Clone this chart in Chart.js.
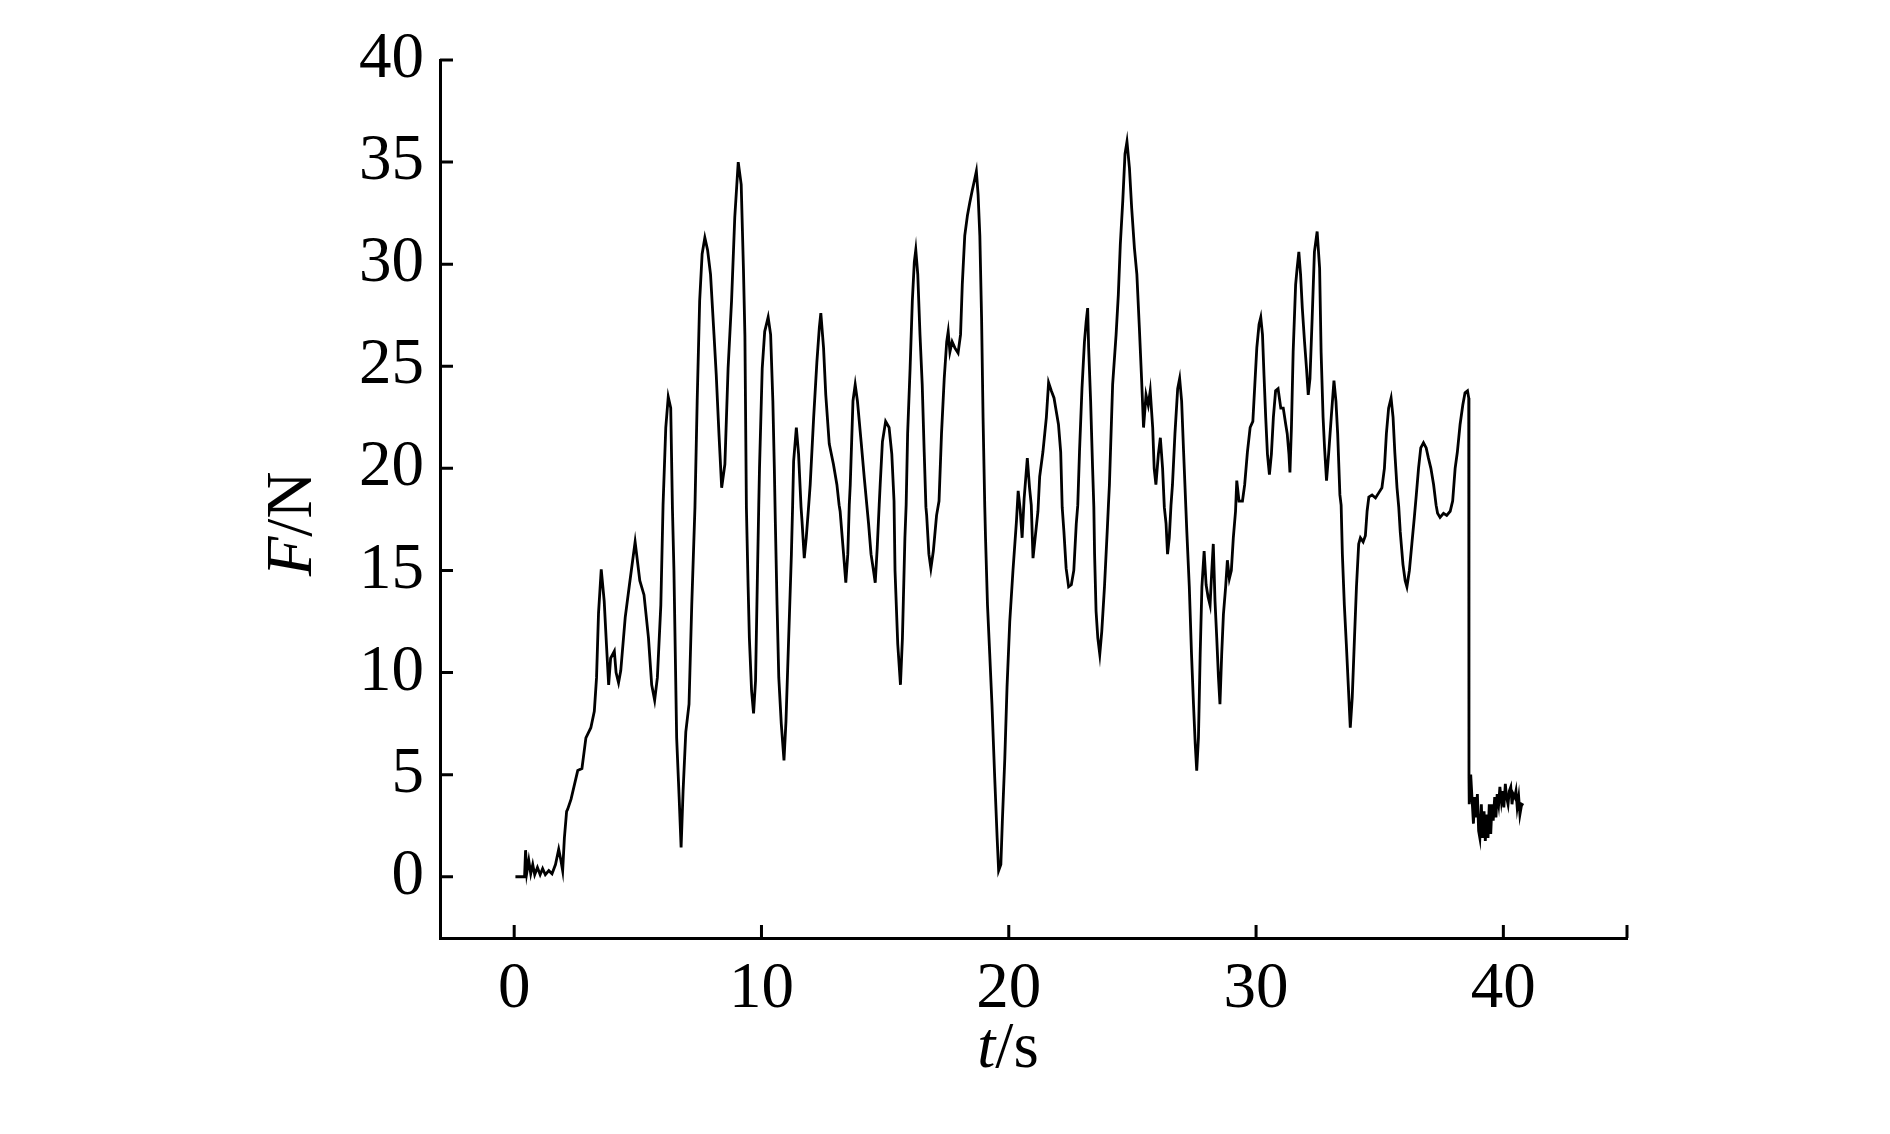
<!DOCTYPE html>
<html>
<head>
<meta charset="utf-8">
<script src="https://cdn.jsdelivr.net/npm/chart.js@4.4.1/dist/chart.umd.min.js"></script>
<style>
  html, body { margin: 0; padding: 0; background: #fff; }
  #wrap { width: 1890px; height: 1134px; }
</style>
</head>
<body>
<div id="wrap"><canvas id="force-chart" width="1890" height="1134"></canvas></div>
<script>
// t/s
const timeS = [
  0.05, 0.42, 0.46, 0.51, 0.59, 0.67, 0.75, 0.83, 0.94, 1.05, 1.15, 1.26, 1.40, 1.53, 1.67, 1.80, 1.89, 1.96,
  2.03, 2.12, 2.16, 2.30, 2.57, 2.74, 2.90, 3.10, 3.24, 3.33, 3.41, 3.52, 3.64, 3.73, 3.82, 3.90, 4.05, 4.12,
  4.22, 4.31, 4.49, 4.65, 4.89, 5.08, 5.25, 5.43, 5.56, 5.68, 5.79, 5.93, 6.02, 6.13, 6.23, 6.33, 6.40, 6.46,
  6.57, 6.67, 6.75, 6.83, 6.94, 7.07, 7.18, 7.31, 7.40, 7.50, 7.60, 7.71, 7.82, 7.94, 8.08, 8.17, 8.28, 8.39,
  8.52, 8.65, 8.79, 8.92, 9.06, 9.18, 9.27, 9.33, 9.39, 9.46, 9.51, 9.60, 9.68, 9.76, 9.84, 9.89, 9.92, 10.03,
  10.13, 10.27, 10.37, 10.46, 10.52, 10.56, 10.63, 10.70, 10.80, 10.91, 10.99, 11.10, 11.21, 11.26, 11.30,
  11.41, 11.50, 11.60, 11.64, 11.73, 11.81, 11.91, 11.97, 12.11, 12.24, 12.34, 12.40, 12.51, 12.60, 12.74,
  12.91, 13.05, 13.14, 13.18, 13.32, 13.41, 13.49, 13.55, 13.59, 13.70, 13.79, 13.88, 14.03, 14.16, 14.26,
  14.33, 14.43, 14.53, 14.60, 14.68, 14.76, 14.80, 14.89, 15.02, 15.16, 15.27, 15.36, 15.40, 15.51, 15.62,
  15.70, 15.80, 15.85, 15.91, 16.01, 16.10, 16.18, 16.24, 16.32, 16.41, 16.50, 16.58, 16.65, 16.68, 16.77,
  16.85, 16.95, 17.08, 17.18, 17.28, 17.39, 17.49, 17.55, 17.62, 17.71, 17.82, 17.95, 18.05, 18.12, 18.22,
  18.33, 18.42, 18.52, 18.63, 18.69, 18.76, 18.83, 18.90, 18.96, 19.03, 19.06, 19.14, 19.23, 19.32, 19.43,
  19.53, 19.59, 19.68, 19.74, 19.84, 19.93, 20.04, 20.17, 20.31, 20.38, 20.46, 20.54, 20.62, 20.75, 20.84,
  20.91, 20.98, 21.05, 21.18, 21.25, 21.38, 21.52, 21.61, 21.72, 21.83, 21.92, 22.01, 22.10, 22.16, 22.23,
  22.32, 22.42, 22.53, 22.63, 22.73, 22.79, 22.86, 22.96, 23.06, 23.13, 23.19, 23.23, 23.31, 23.39, 23.44,
  23.47, 23.53, 23.60, 23.68, 23.76, 23.87, 23.98, 24.03, 24.07, 24.20, 24.34, 24.43, 24.51, 24.61, 24.70,
  24.78, 24.88, 24.97, 25.08, 25.18, 25.28, 25.37, 25.45, 25.55, 25.64, 25.72, 25.82, 25.88, 25.95, 26.05,
  26.13, 26.22, 26.29, 26.36, 26.42, 26.49, 26.56, 26.62, 26.72, 26.83, 26.91, 26.99, 27.07, 27.16, 27.20,
  27.30, 27.39, 27.47, 27.54, 27.60, 27.67, 27.74, 27.81, 27.90, 27.98, 28.06, 28.14, 28.21, 28.27, 28.34,
  28.41, 28.48, 28.54, 28.61, 28.68, 28.77, 28.84, 28.92, 29.00, 29.08, 29.17, 29.22, 29.31, 29.45, 29.54,
  29.65, 29.76, 29.87, 29.95, 30.03, 30.12, 30.19, 30.26, 30.32, 30.39, 30.46, 30.54, 30.62, 30.70, 30.79,
  30.89, 31.00, 31.10, 31.20, 31.26, 31.33, 31.37, 31.43, 31.50, 31.60, 31.66, 31.73, 31.80, 31.87, 31.96,
  32.04, 32.11, 32.18, 32.27, 32.36, 32.47, 32.57, 32.63, 32.71, 32.77, 32.85, 32.94, 33.04, 33.15, 33.23,
  33.30, 33.39, 33.44, 33.49, 33.57, 33.65, 33.74, 33.81, 33.89, 33.98, 34.06, 34.15, 34.22, 34.33, 34.42,
  34.49, 34.56, 34.69, 34.83, 34.96, 35.09, 35.19, 35.27, 35.36, 35.46, 35.54, 35.61, 35.70, 35.77, 35.83,
  35.94, 36.03, 36.10, 36.20, 36.30, 36.40, 36.48, 36.57, 36.66, 36.77, 36.88, 36.97, 37.07, 37.18, 37.28,
  37.34, 37.44, 37.58, 37.71, 37.85, 37.91, 37.95, 38.05, 38.14, 38.25, 38.36, 38.45, 38.55, 38.60, 38.61,
  38.62, 38.68, 38.73, 38.79, 38.84, 38.89, 38.95, 39.00, 39.05, 39.11, 39.16, 39.22, 39.27, 39.33, 39.38,
  39.43, 39.49, 39.54, 39.59, 39.65, 39.70, 39.75, 39.81, 39.86, 39.92, 39.97, 40.02, 40.08, 40.13, 40.19,
  40.24, 40.30, 40.35, 40.40, 40.46, 40.51, 40.56, 40.62, 40.67, 40.74, 40.81
];

// F/N
const forceN = [
  0.0, 0.0, 1.3, 0.2, 0.8, 0.15, 0.6, 0.1, 0.45, 0.1, 0.4, 0.1, 0.3, 0.15, 0.6, 1.35, 0.8, 0.3,
  1.9, 3.2, 3.3, 3.8, 5.2, 5.3, 6.8, 7.3, 8.1, 9.75, 12.9, 15.05, 13.5, 11.4, 9.4, 10.7, 11.05, 10.0,
  9.5, 10.1, 12.7, 14.2, 16.4, 14.5, 13.8, 11.7, 9.4, 8.65, 9.75, 13.3, 18.2, 22.0, 23.5, 22.96, 18.0, 15.0,
  6.8, 3.9, 1.44, 4.2, 7.1, 8.45, 13.3, 18.1, 23.3, 28.2, 30.5, 31.3, 30.7, 29.5, 26.55, 24.6, 21.7, 19.05,
  20.2, 24.9, 28.2, 32.3, 35.0, 33.9, 29.8, 26.5, 18.1, 14.2, 11.7, 9.1, 8.0, 9.6, 15.0, 18.2, 20.0, 24.9,
  26.7, 27.4, 26.55, 23.3, 20.0, 17.4, 13.3, 9.75, 7.5, 5.7, 7.6, 11.7, 15.8, 18.2, 20.35,
  22.0, 20.7, 18.1, 17.4, 15.6, 16.6, 18.2, 19.2, 22.5, 25.2, 26.9, 27.6, 25.9, 23.6, 21.2,
  20.2, 19.2, 18.2, 17.9, 15.8, 14.4, 15.8, 18.2, 19.2, 23.3, 24.1, 23.3, 21.3, 19.5, 18.2,
  17.3, 15.8, 15.0, 14.4, 16.1, 18.2, 19.2, 21.3, 22.3, 22.0, 20.7, 18.4, 15.0, 11.4, 9.4,
  11.7, 16.6, 18.2, 21.7, 24.9, 28.2, 30.1, 30.7, 29.5, 26.55, 24.1, 20.8, 18.1, 17.7, 15.8,
  15.1, 15.95, 17.7, 18.4, 21.7, 24.4, 26.2, 26.7, 25.7, 26.2, 25.9, 25.65, 26.55, 29.0, 31.4,
  32.4, 33.0, 33.6, 34.2, 34.55, 33.4, 31.4, 27.4, 22.5, 18.1, 16.6, 13.3, 10.9, 8.45, 4.9,
  1.9, 0.3, 0.6, 2.7, 5.8, 9.3, 12.5, 15.0, 17.4, 18.9, 18.0, 16.6, 18.5, 20.5, 19.05,
  18.2, 15.6, 16.4, 17.9, 19.6, 20.8, 22.5, 24.2, 23.8, 23.45, 22.8, 22.15, 20.8, 18.1, 16.9,
  15.1, 14.2, 14.3, 15.0, 17.3, 18.2, 20.8, 23.9, 26.2, 27.2, 27.85, 25.9, 23.3, 20.0, 18.1,
  15.8, 13.0, 11.7, 10.9, 12.0, 14.2, 16.9, 18.2, 19.2, 24.1, 26.55, 28.5, 30.95, 33.1, 35.4,
  36.0, 34.7, 32.75, 30.8, 29.5, 26.9, 24.4, 22.0, 23.6, 23.1, 23.8, 22.0, 20.0, 19.2, 20.7,
  21.5, 20.0, 18.1, 17.3, 15.8, 16.6, 18.2, 19.2, 21.7, 23.9, 24.4, 23.3, 20.8, 18.1, 16.9,
  14.2, 10.9, 8.45, 6.5, 5.2, 6.8, 10.9, 14.2, 15.95, 14.3, 13.7, 13.3, 15.0, 16.3, 13.5,
  11.7, 9.75, 8.45, 10.9, 12.85, 14.2, 15.5, 14.6, 15.0, 16.6, 17.9, 19.4, 18.4, 18.4, 19.2,
  20.8, 22.0, 22.3, 24.1, 25.9, 27.05, 27.4, 26.55, 24.6, 22.5, 20.7, 19.7, 20.7, 22.5, 23.8,
  23.9, 22.95, 22.95, 22.15, 21.7, 20.7, 19.8, 22.0, 25.7, 29.0, 29.8, 30.6, 29.5, 27.85, 26.2,
  24.9, 23.6, 24.4, 27.4, 30.6, 31.6, 29.8, 25.7, 22.5, 21.0, 19.4, 20.8, 22.5, 24.3, 23.3,
  21.7, 18.7, 18.2, 15.8, 13.3, 11.4, 9.1, 7.3, 8.8, 11.7, 14.2, 16.3, 16.6, 16.4, 16.7,
  17.9, 18.6, 18.7, 18.55, 18.8, 19.05, 20.0, 21.7, 22.95, 23.45, 22.5, 20.8, 19.05, 18.1, 16.9,
  15.3, 14.5, 14.2, 15.0, 16.3, 17.6, 18.7, 20.0, 21.0, 21.25, 21.0, 20.5, 20.0, 19.2, 18.2,
  17.8, 17.6, 17.8, 17.7, 17.9, 18.2, 18.4, 20.0, 20.8, 22.15, 23.1, 23.7, 23.8, 23.45, 4.8,
  3.55, 5.0, 3.9, 2.6, 3.9, 2.9, 4.05, 2.25, 1.9, 3.55, 1.9, 3.2, 1.75, 3.05, 1.9,
  3.55, 2.1, 3.55, 2.75, 3.9, 2.9, 4.05, 3.55, 4.4, 3.7, 4.2, 3.4, 4.55, 3.9, 3.55,
  4.2, 4.4, 3.55, 4.05, 3.9, 4.2, 3.4, 3.9, 3.05, 3.55, 3.5
];

const xTickValues = [0, 10, 20, 30, 40];
const xTickMarks = [0, 10, 20, 30, 40, 45];
const yTickValues = [0, 5, 10, 15, 20, 25, 30, 35, 40];

const FONT = '"Liberation Serif", "Times New Roman", serif';

// ticks pointing into the plot, like the original figure
const inwardTicks = {
    id: 'inwardTicks',
    afterDraw(chart) {
        const ctx = chart.ctx;
        const xs = chart.scales.x;
        const ys = chart.scales.y;
        const len = 13;
        ctx.save();
        ctx.strokeStyle = '#000';
        ctx.lineWidth = 3;
        ctx.beginPath();
        xTickMarks.forEach(v => {
            const px = xs.getPixelForValue(v);
            ctx.moveTo(px, ys.bottom);
            ctx.lineTo(px, ys.bottom - len);
        });
        yTickValues.forEach(v => {
            const py = ys.getPixelForValue(v);
            ctx.moveTo(xs.left, py);
            ctx.lineTo(xs.left + len, py);
        });
        ctx.stroke();
        ctx.restore();
    }
};

// axis titles with italic quantity symbol
function drawMixed(ctx, parts, x, y) {
    let total = 0;
    parts.forEach(p => { ctx.font = p.font; p.w = ctx.measureText(p.text).width; total += p.w; });
    let cx = x - total / 2;
    parts.forEach(p => {
        ctx.font = p.font;
        ctx.fillText(p.text, cx, y);
        cx += p.w;
    });
}

const axisTitles = {
    id: 'axisTitles',
    afterDraw(chart) {
        const ctx = chart.ctx;
        ctx.save();
        ctx.fillStyle = '#000';
        ctx.textAlign = 'left';
        ctx.textBaseline = 'alphabetic';
        drawMixed(ctx, [
            { text: 't', font: 'italic 65px ' + FONT },
            { text: '/s', font: '65px ' + FONT }
        ], 1008, 1067);
        ctx.translate(311, 524);
        ctx.rotate(-Math.PI / 2);
        drawMixed(ctx, [
            { text: 'F', font: 'italic 65px ' + FONT },
            { text: '/N', font: '65px ' + FONT }
        ], 0, 0);
        ctx.restore();
    }
};

const ctx = document.getElementById('force-chart').getContext('2d');
const forceChart = new Chart(ctx, {
    type: 'line',
    data: {
        datasets: [{
            label: 'F',
            data: timeS.map((t, i) => ({ x: t, y: forceN[i] })),
            borderColor: '#000',
            borderWidth: 2.8,
            pointRadius: 0,
            tension: 0,
            fill: false
        }]
    },
    options: {
        responsive: false,
        animation: false,
        layout: {
            padding: { left: 0, top: 60, right: 263, bottom: 0 }
        },
        plugins: {
            legend: { display: false },
            tooltip: { enabled: false }
        },
        scales: {
            x: {
                type: 'linear',
                min: -3,
                max: 45,
                grid: { display: false, drawTicks: false },
                border: { display: true, color: '#000', width: 3 },
                ticks: {
                    color: '#000',
                    padding: 13,
                    maxRotation: 0,
                    font: { family: FONT, size: 65 }
                },
                afterBuildTicks(scale) {
                    scale.ticks = xTickValues.map(v => ({ value: v }));
                },
                afterFit(scale) {
                    scale.height = 196;
                }
            },
            y: {
                min: -3,
                max: 40,
                grid: { display: false, drawTicks: false },
                border: { display: true, color: '#000', width: 3 },
                ticks: {
                    color: '#000',
                    padding: 16,
                    font: { family: FONT, size: 65 }
                },
                afterBuildTicks(scale) {
                    scale.ticks = yTickValues.map(v => ({ value: v }));
                },
                afterFit(scale) {
                    scale.width = 440;
                }
            }
        }
    },
    plugins: [inwardTicks, axisTitles]
});
</script>
</body>
</html>
